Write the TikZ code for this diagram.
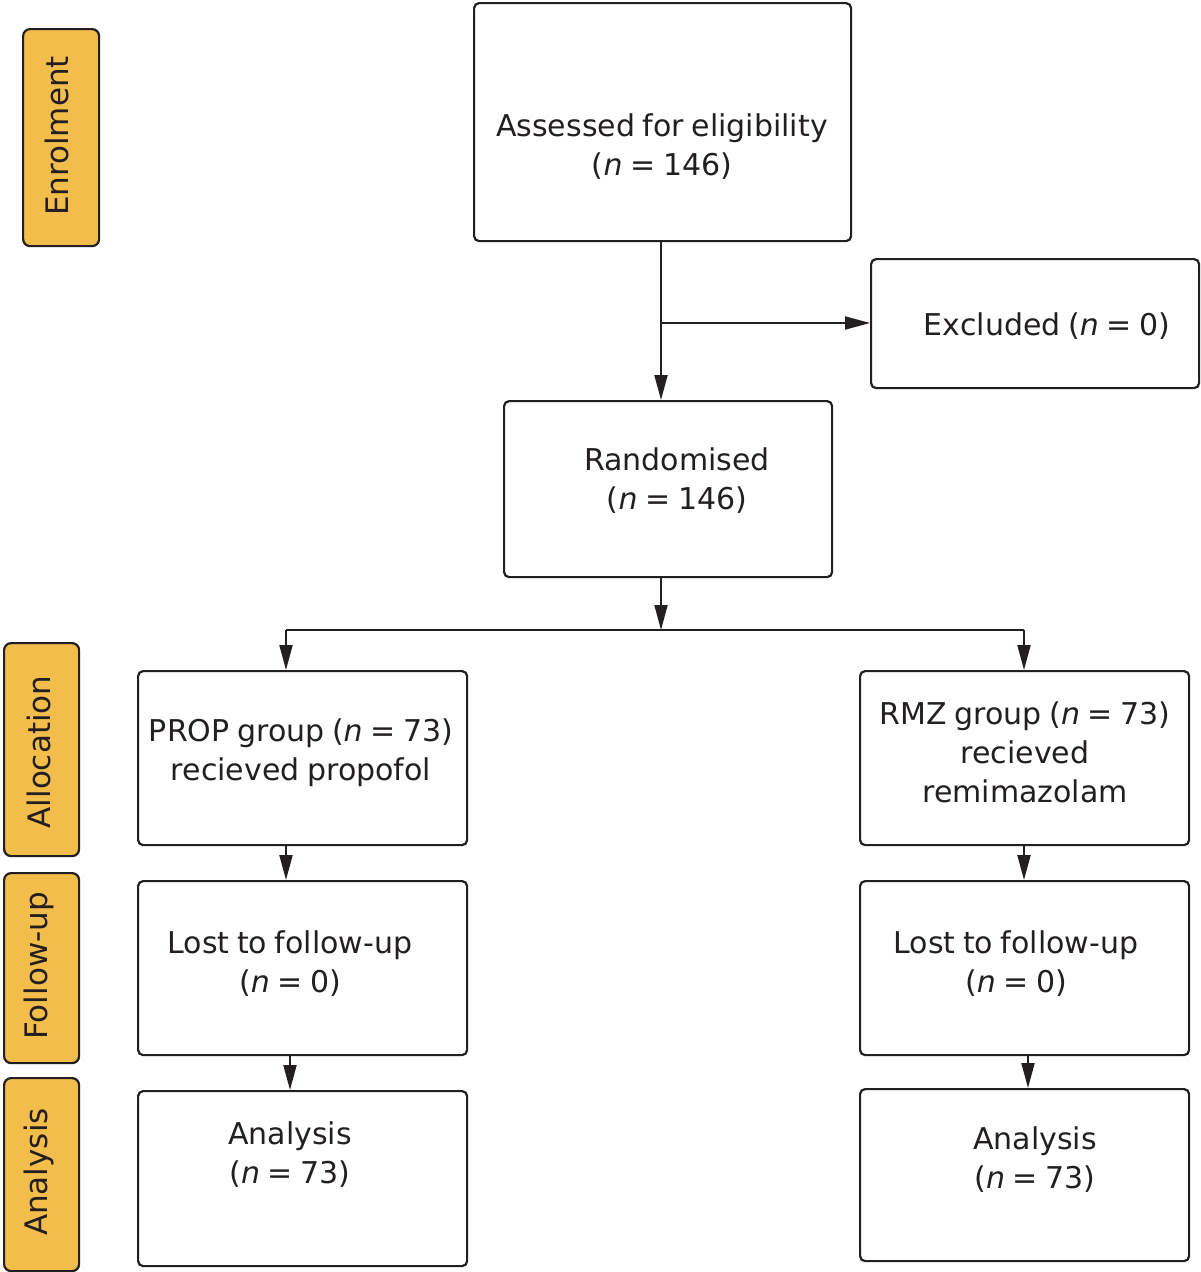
\documentclass[tikz,border=0pt]{standalone}
\usepackage{fontspec}
\setmainfont[WordSpace=0.8]{DejaVu Sans}
\usetikzlibrary{arrows.meta,calc}
\definecolor{stage}{HTML}{F3BD4C}
\definecolor{ink}{HTML}{231F20}
\tikzset{
  box/.style={draw=ink,line width=2.2pt,rounded corners=5pt,fill=white,inner sep=0pt,anchor=north west},
  stagebox/.style={draw=ink,line width=2.2pt,rounded corners=7pt,fill=stage,inner sep=0pt,anchor=north west},
  txt/.style={align=center,inner sep=0pt,text=ink,font=\fontsize{30}{39}\selectfont},
  stagetxt/.style={inner sep=0pt,text=ink,rotate=90,font=\fontsize{31}{38}\selectfont},
  arr/.style={draw=ink,line width=2pt,-{Triangle[length=25pt,width=13pt]}},
  ln/.style={draw=ink,line width=2pt}
}
\begin{document}
\begin{tikzpicture}[x=1pt,y=-1pt]
\useasboundingbox (0,0) rectangle (1200,1272);
% stage labels
\node[stagebox,minimum width=76pt,minimum height=217pt] (enrol) at (22,28) {};
\node[stagetxt] (enrolT) at (57,136) {Enrolment};
\node[stagebox,minimum width=75pt,minimum height=213pt] (alloc) at (3,642) {};
\node[stagetxt] (allocT) at (39,752) {Allocation};
\node[stagebox,minimum width=75pt,minimum height=190pt] (follow) at (3,872) {};
\node[stagetxt] (followT) at (39,966) {Follow-up};
\node[stagebox,minimum width=75pt,minimum height=193pt] (anal) at (3,1077) {};
\node[stagetxt] (analT) at (39,1172) {Analysis};
% boxes
\node[box,minimum width=377pt,minimum height=238pt] (assess) at (473,2) {};
\node[txt] (assessT) at (662,147) {Assessed for eligibility\\(\textit{n} = 146)};
\node[box,minimum width=328pt,minimum height=129pt] (excl) at (870,258) {};
\node[txt] (exclT) at (1047,326) {Excluded (\textit{n} = 0)};
\node[box,minimum width=328pt,minimum height=176pt] (rand) at (503,400) {};
\node[txt] (randT) at (677,481) {Randomised\\(\textit{n} = 146)};
\node[box,minimum width=329pt,minimum height=174pt] (prop) at (137,670) {};
\node[txt] (propT) at (301,753) {PROP group (\textit{n} = 73)\\recieved propofol};
\node[box,minimum width=329pt,minimum height=174pt] (rmz) at (859,670) {};
\node[txt] (rmzT) at (1025,752) {RMZ group (\textit{n} = 73)\\recieved\\remimazolam};
\node[box,minimum width=329pt,minimum height=174pt] (lostL) at (137,880) {};
\node[txt] (lostLT) at (290,964) {Lost to follow-up\\(\textit{n} = 0)};
\node[box,minimum width=329pt,minimum height=174pt] (lostR) at (859,880) {};
\node[txt] (lostRT) at (1016,964) {Lost to follow-up\\(\textit{n} = 0)};
\node[box,minimum width=329pt,minimum height=175pt] (anaL) at (137,1090) {};
\node[txt] (anaLT) at (290,1155) {Analysis\\(\textit{n} = 73)};
\node[box,minimum width=329pt,minimum height=172pt] (anaR) at (859,1088) {};
\node[txt] (anaRT) at (1035,1160) {Analysis\\(\textit{n} = 73)};
% connector columns
\coordinate (cM) at (661,0);
\coordinate (cL) at (286,0);
\coordinate (cL2) at (290,0);
\coordinate (cR) at (1024,0);
\coordinate (cR2) at (1028,0);
\coordinate (split) at (661,323);
\coordinate (bar) at (661,630);
% connectors
\draw[arr] (assess.south -| cM) -- (rand.north -| cM);
\draw[arr] (split) -- (split -| excl.west);
\draw[arr] (rand.south -| cM) -- (bar);
\draw[ln] (bar -| cL) -- (bar -| cR);
\draw[arr] (bar -| cL) -- (prop.north -| cL);
\draw[arr] (bar -| cR) -- (rmz.north -| cR);
\draw[arr] (prop.south -| cL) -- (lostL.north -| cL);
\draw[arr] (rmz.south -| cR) -- (lostR.north -| cR);
\draw[arr] (lostL.south -| cL2) -- (anaL.north -| cL2);
\draw[arr] (lostR.south -| cR2) -- (anaR.north -| cR2);
\end{tikzpicture}
\end{document}
